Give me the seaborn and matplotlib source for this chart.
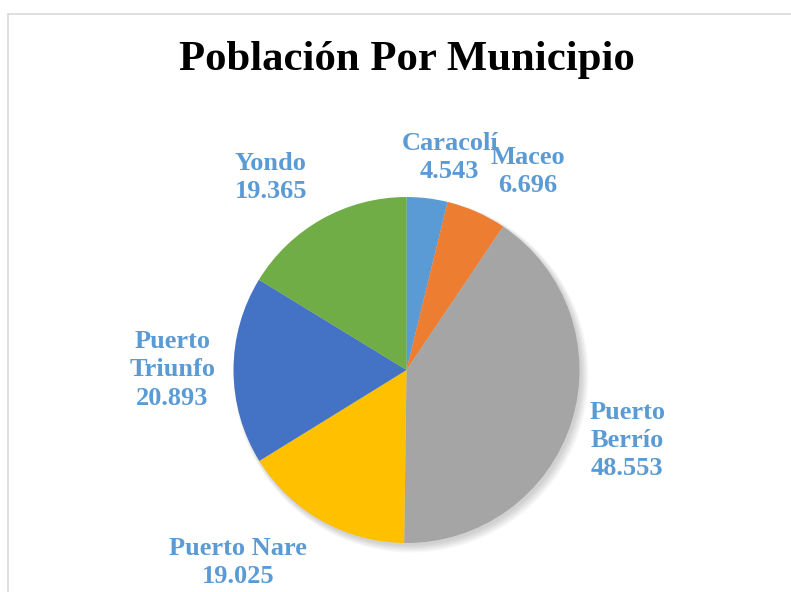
import matplotlib
matplotlib.use("Agg")
import matplotlib.pyplot as plt
from matplotlib.lines import Line2D
from matplotlib.patches import Circle
import seaborn as sns

# data
municipios = ["Caracolí", "Maceo", "Puerto Berrío", "Puerto Nare", "Puerto Triunfo", "Yondo"]
poblacion = [4543, 6696, 48553, 19025, 20893, 19365]
colores = ["#5B9BD5", "#ED7D31", "#A5A5A5", "#FFC000", "#4472C4", "#70AD47"]
etiquetas = ["Caracolí", "Maceo", "Puerto\nBerrío", "Puerto Nare", "Puerto\nTriunfo", "Yondo"]

# label placement (in units of pie radius)
label_pos = [(0.25, 1.23), (0.70, 1.15), (1.275, -0.405), (-0.975, -1.11), (-1.355, 0.0), (-0.785, 1.11)]

sns.set_theme(style="white")
plt.rcParams["font.family"] = ["Liberation Serif", "DejaVu Serif"]

W, H = 791, 592
fig = plt.figure(figsize=(W / 100, H / 100), dpi=100)

cx, cy, r = 406.5, 370, 173
ax = fig.add_axes([(cx - r) / W, (H - cy - r) / H, 2 * r / W, 2 * r / H])

# soft shadow
for k in range(6):
    ax.add_patch(Circle((0.012 + 0.003 * k, -0.015 - 0.003 * k), 1.0 + 0.005 * k,
                        color="black", alpha=0.03, lw=0, zorder=0, clip_on=False))

wedges, _ = ax.pie(poblacion, colors=sns.color_palette(colores), startangle=90,
                   counterclock=False, radius=1.0,
                   wedgeprops=dict(linewidth=0, edgecolor="none"))
for w in wedges:
    w.set_zorder(2)
ax.set_xlim(-1, 1)
ax.set_ylim(-1, 1)
ax.set_aspect("equal")
ax.axis("off")

for lab, val, (x, y) in zip(etiquetas, poblacion, label_pos):
    txt = f"{lab}\n{val:,}".replace(",", ".")
    ax.text(x, y, txt, ha="center", va="center", fontsize=19, fontweight="bold",
            color="#5B9BD5", linespacing=1.28, clip_on=False)

fig.text(cx / W, 1 - 60 / H, "Población Por Municipio", ha="center", va="center",
         fontsize=30.8, fontweight="bold", color="black")

# chart frame
fig.add_artist(Line2D([8 / W, 1], [1 - 14 / H, 1 - 14 / H], color="#D9D9D9", lw=1.2,
                      transform=fig.transFigure))
fig.add_artist(Line2D([8 / W, 8 / W], [0, 1 - 14 / H], color="#D9D9D9", lw=1.2,
                      transform=fig.transFigure))

fig.savefig("out.png", dpi=100)
